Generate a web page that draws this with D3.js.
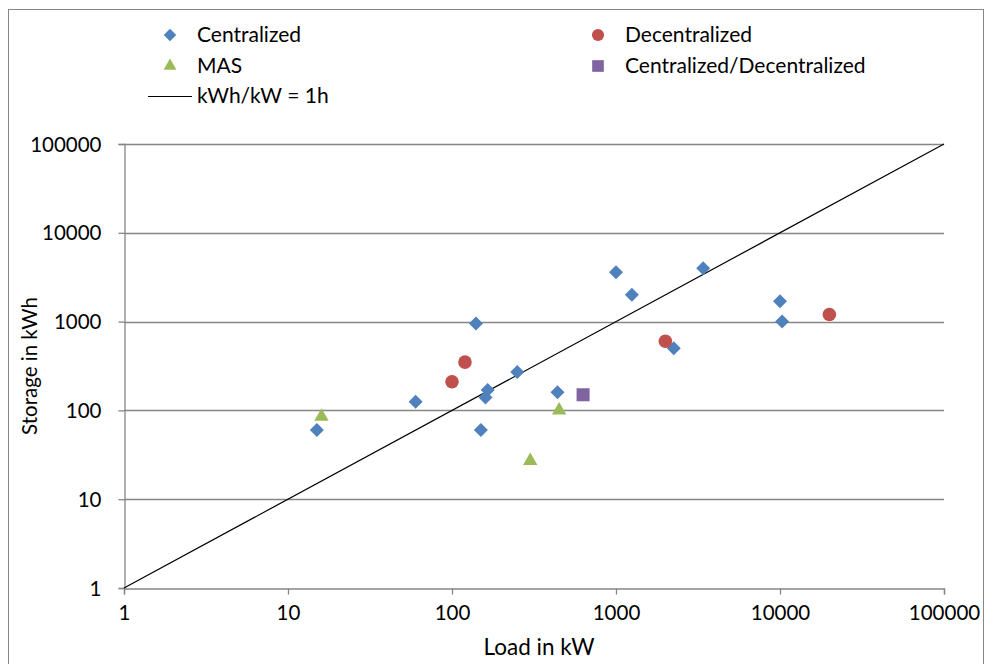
<!DOCTYPE html>
<html>
<head>
<meta charset="utf-8">
<script src="https://cdn.jsdelivr.net/npm/d3@7"></script>
<style>
  body { margin: 0; background: #fff; }
  text { font-family: Lato, "Open Sans", sans-serif; fill: #000; }
</style>
</head>
<body>
<div id="chart"></div>
<script>
// datos (kW, kWh)
const centralizedLoad = [1000, 1250, 3400, 10000, 10300, 2250, 140, 250, 165, 160, 440, 60, 15, 150];
const centralizedStorage = [3600, 2000, 4000, 1700, 1000, 500, 950, 270, 170, 140, 160, 125, 60, 60];
const decentralizedLoad = [120, 100, 2000, 20000];
const decentralizedStorage = [350, 210, 600, 1200];
const masLoad = [16, 450, 300];
const masStorage = [85, 100, 27];
const mixedLoad = [630];
const mixedStorage = [150];
const refLine = [1, 100000]; // kWh/kW = 1h
const tickValues = [1, 10, 100, 1000, 10000, 100000];

const width = 993, height = 664;
const svg = d3.select("#chart").append("svg")
    .attr("width", width).attr("height", height);

// marco exterior
svg.append("rect")
    .attr("x", 8.5).attr("y", 9.5)
    .attr("width", 975).attr("height", 670)
    .attr("fill", "none").attr("stroke", "#868686");

const escalaX = d3.scaleLog().domain([1, 100000]).range([124, 944]);
const escalaY = d3.scaleLog().domain([1, 100000]).range([588, 144]);
const gris = "#868686";

// grilla horizontal
svg.append("g")
    .selectAll("line")
    .data(tickValues.slice(1))
    .join("line")
    .attr("x1", escalaX(1)).attr("x2", escalaX(100000))
    .attr("y1", d => Math.round(escalaY(d)) + 0.5)
    .attr("y2", d => Math.round(escalaY(d)) + 0.5)
    .attr("stroke", gris).attr("stroke-width", 1.3);

// ejes
const ejeX = svg.append("g")
    .attr("transform", `translate(0, ${Math.round(escalaY(1)) + 0.5})`)
    .call(d3.axisBottom(escalaX).tickValues(tickValues).tickFormat(d3.format("d")).tickSize(6).tickPadding(7));
const ejeY = svg.append("g")
    .attr("transform", `translate(${Math.round(escalaX(1)) + 0.5}, 0)`)
    .call(d3.axisLeft(escalaY).tickValues(tickValues).tickFormat(d3.format("d")).tickSize(6).tickPadding(17));
[ejeX, ejeY].forEach(eje => {
    eje.select(".domain").attr("stroke", gris).attr("stroke-width", 1.3);
    eje.selectAll(".tick line").attr("stroke", gris).attr("stroke-width", 1.3);
    eje.selectAll(".tick text").attr("font-size", 20.5).attr("font-family", "Lato").attr("fill", "#000");
});
ejeX.selectAll(".tick text").attr("dy", "0.9em");
ejeY.selectAll(".tick text").attr("dy", "0.35em");

// linea kWh/kW = 1h
svg.append("line")
    .attr("x1", escalaX(refLine[0])).attr("y1", escalaY(refLine[0]))
    .attr("x2", escalaX(refLine[1])).attr("y2", escalaY(refLine[1]))
    .attr("stroke", "#000").attr("stroke-width", 1.2);

const series = [
    { name: "Centralized", load: centralizedLoad, storage: centralizedStorage, color: "#4F81BD", symbol: d3.symbolDiamond2, size: 125 },
    { name: "Decentralized", load: decentralizedLoad, storage: decentralizedStorage, color: "#C0504D", symbol: d3.symbolCircle, size: 145 },
    { name: "MAS", load: masLoad, storage: masStorage, color: "#9BBB59", symbol: d3.symbolTriangle, size: 90 },
    { name: "Centralized/Decentralized", load: mixedLoad, storage: mixedStorage, color: "#8064A2", symbol: d3.symbolSquare, size: 170 }
];

series.forEach(s => {
    const puntos = s.load.map((l, i) => ({ x: l, y: s.storage[i] }));
    svg.append("g")
        .selectAll("path")
        .data(puntos)
        .join("path")
        .attr("d", d3.symbol().type(s.symbol).size(s.size))
        .attr("transform", d => `translate(${escalaX(d.x)}, ${escalaY(d.y)})`)
        .attr("fill", s.color);
});

// leyenda
const leyendaPos = [[170, 35], [598, 35], [170, 66], [598, 66]];
series.forEach((s, i) => {
    const [lx, ly] = leyendaPos[i];
    svg.append("path")
        .attr("d", d3.symbol().type(s.symbol).size(s.size * 0.8))
        .attr("transform", `translate(${lx}, ${ly})`)
        .attr("fill", s.color);
    svg.append("text")
        .attr("x", lx + 27).attr("y", ly)
        .attr("dy", "0.35em")
        .attr("font-size", 21)
        .text(s.name);
});
svg.append("line")
    .attr("x1", 148).attr("x2", 192)
    .attr("y1", 96.5).attr("y2", 96.5)
    .attr("stroke", "#000").attr("stroke-width", 1);
svg.append("text")
    .attr("x", 197).attr("y", 96).attr("dy", "0.35em")
    .attr("font-size", 21)
    .text("kWh/kW = 1h");

// titulos de ejes
svg.append("text")
    .attr("transform", `translate(37, ${(escalaY(1) + escalaY(100000)) / 2}) rotate(-90)`)
    .attr("text-anchor", "middle")
    .attr("font-size", 20.5)
    .text("Storage in kWh");
svg.append("text")
    .attr("x", 539).attr("y", 655)
    .attr("text-anchor", "middle")
    .attr("font-size", 22.5)
    .text("Load in kW");
</script>
</body>
</html>
